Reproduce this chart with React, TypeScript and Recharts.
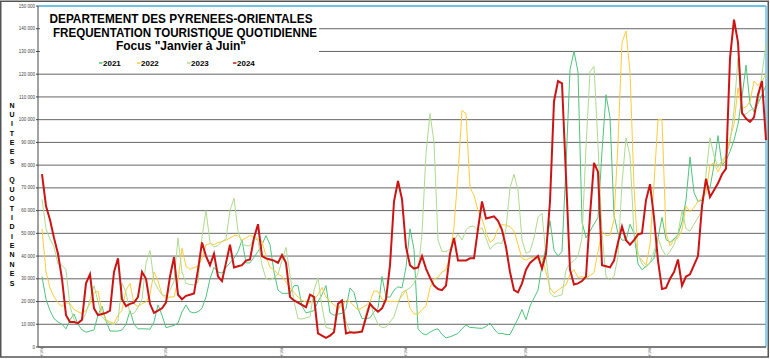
import React from 'react';
import { LineChart, Line, XAxis, YAxis, CartesianGrid, ReferenceLine } from 'recharts';

// Nuitées quotidiennes (en milliers), du 1er janvier au 30 juin
const nuitees2021 = [
  31, 21, 16, 12.5, 11, 10, 8, 12, 14.5, 10, 7.5, 6.5, 7, 7.5, 14, 18, 11.5, 7, 7, 7,
  7.5, 10, 16, 10, 8, 8, 8, 7.8, 11, 18.5, 14, 8.5, 9, 9.5, 10.5, 15.5, 18.5, 15.5, 15, 15.5,
  17, 22, 30, 35, 33, 32.5, 35, 37, 39, 42, 47, 37, 37, 39.5, 42, 45, 49, 45, 33, 25,
  23.6, 23.6, 23.6, 27, 27, 18, 15, 15.5, 16, 20, 23, 27, 15, 14, 14.5, 14.8, 17, 26, 24, 17,
  12.5, 12.5, 12.8, 15.5, 17, 31, 22, 22, 25, 26.5, 26, 35, 52, 43, 8, 6, 5.3, 6.5, 7.5, 8,
  5.5, 4, 4.5, 5.2, 6, 8, 9.7, 8.6, 8.5, 8.3, 8.2, 9, 10.5, 8, 6, 6, 5.5, 5.5, 8.9, 12.5,
  16.5, 12, 18, 21.5, 25, 36, 44, 55.5, 42.6, 40, 42, 80, 122, 130, 121, 55, 48, 51, 54, 57,
  86, 111, 101, 58, 50, 47, 47, 54, 50, 36.5, 34, 35.5, 37, 39, 48, 57, 47.3, 46, 47.5, 49.5,
  55, 64.6, 83.6, 68, 64, 64.5, 72, 70, 80, 93, 80, 82, 86, 91, 98, 110, 124, 107, 103.5, 107,
  111, 115,
];

const nuitees2022 = [
  52, 33, 26, 22, 19.5, 17.7, 19.5, 19, 16.5, 15.5, 14.8, 16, 19, 24, 24.5, 15.5, 12, 11, 10.4, 14,
  16.2, 25, 28, 19, 17.8, 19, 19.8, 23, 33, 29, 23, 21.4, 22, 22, 29, 43.4, 35.5, 34.2, 35, 35.5,
  39, 45, 45.5, 45, 46, 46.3, 47, 48, 49, 49, 47, 48, 49, 48.5, 47.5, 46.5, 40, 35, 34, 32,
  31, 28.5, 26, 24, 22, 20.5, 19.8, 19.2, 21, 23, 26.2, 22, 20, 18.5, 17, 18, 20.5, 20, 18, 16.3,
  17.2, 18.3, 20, 24.7, 24.4, 21, 20, 20, 20, 20, 22.5, 25, 17, 14.5, 14.5, 16.5, 18, 26, 30, 30.6,
  33, 34, 40, 53, 76, 104, 102.7, 70, 66.8, 60, 56.5, 50.5, 46, 47.5, 52, 54, 53.5, 53, 51, 45,
  39, 38.2, 39.2, 39.5, 38.5, 39.4, 33, 26, 23.6, 25, 26.3, 27.3, 32, 34, 30.6, 31, 30.2, 31.5, 32.7, 42,
  51, 49, 49.2, 56, 90, 134, 139, 121, 70.5, 40, 38.2, 36, 45, 72, 100, 100, 50, 44.5, 47, 48,
  51.5, 62, 59.5, 61.5, 64, 65.5, 67.6, 80, 81, 77, 80.5, 84, 92, 98, 114, 105, 105.6, 108, 117, 115,
  117, 120,
];

const nuitees2023 = [
  65, 52, 47.5, 44, 36.5, 36, 34, 18, 12, 10.5, 11.5, 15, 21, 27, 20, 13.3, 11.5, 10.4, 9.7, 11.5,
  28, 24, 14.5, 14.8, 17.5, 21, 37, 42.5, 29, 25.5, 23, 22.5, 25, 29, 48, 33, 28, 27.5, 27.3, 28.5,
  48.5, 60, 46, 44, 44.6, 46.5, 47.5, 60, 65.5, 51, 45.6, 44.5, 44.5, 47.8, 47, 36, 30, 29.5, 30.5, 32,
  38, 43.8, 31.6, 20, 12.5, 12.3, 12.8, 13.3, 25, 30.5, 17.7, 8.5, 8.2, 7.5, 16, 20.7, 11, 6.8, 6.5, 6.7,
  7, 15, 19.9, 14, 10, 8.6, 8.8, 11, 13.3, 19, 24, 25, 26, 28, 32.5, 50, 85, 102.7, 90, 47,
  42, 42, 43, 47, 49.7, 47, 51.4, 53, 53.2, 51, 52.5, 48, 43, 45, 45.8, 45.6, 52, 70, 76, 69,
  47, 41.2, 42, 48, 57, 58.8, 40, 24, 22, 22.5, 23, 33.8, 36.8, 38, 40, 48, 88, 121, 123.5, 89,
  50, 31, 29.5, 31, 40, 72, 92, 84, 50, 41, 36.5, 35, 37, 42, 48, 43, 40, 42, 45, 50,
  60, 52, 51, 54, 57, 60, 76, 92, 84, 79, 82, 84, 90, 104, 127, 102, 102.5, 104, 105, 107,
  120, 133.5,
];

const nuitees2024 = [
  76, 62, 56, 48, 41, 30, 14, 11, 11, 10.5, 12, 28, 32, 17, 14, 14.5, 15, 16, 33, 39,
  21, 18, 19, 19.5, 22, 33, 30, 19, 15, 16, 17, 19.5, 31, 39.5, 23, 21, 22.5, 23, 23.5, 34,
  46, 40, 36, 41, 31, 29, 37, 45, 35, 35.5, 36, 38, 38.5, 48, 54, 40, 39, 38.5, 38, 37,
  40.5, 37, 22, 20.5, 19.5, 18.5, 17.5, 23, 22, 6, 5, 4, 5, 6.5, 19, 20.5, 6, 6.5, 6.3, 6.5,
  6.8, 13, 19, 17, 15.5, 17, 21, 36, 64, 73, 65, 44, 36, 34.5, 35, 40, 34.5, 30.5, 27, 25.5,
  25, 27, 41, 48, 38, 38, 38, 39, 39, 52, 64, 56.5, 57, 57.5, 55.5, 51.5, 44, 33, 25, 24,
  28, 34, 37, 38.5, 40, 34.5, 41, 64, 108, 117, 116, 75, 34, 27.5, 28, 29, 31, 58, 81, 77,
  36, 35.5, 35, 38, 46, 53, 47, 45, 47, 49.5, 50, 64.6, 71.6, 57, 38, 25.5, 26, 30, 33, 38.5,
  27, 31, 32, 36, 40, 62, 74, 66, 69, 72, 76, 78.5, 127, 144, 134, 103, 100.5, 99, 101, 111,
  117, 91,
];

const monthStarts = [0, 31, 60, 91, 121, 152];
const monthLabels = ['01/01', '01/02', '01/03', '01/04', '01/05', '01/06'];
const yTicks = [0, 10, 20, 30, 40, 50, 60, 70, 80, 90, 100, 110, 120, 130, 140, 150];

const series = [
  { key: 'n2021', name: '2021', color: '#4fc47c', width: 1 },
  { key: 'n2022', name: '2022', color: '#ffcb3a', width: 1 },
  { key: 'n2023', name: '2023', color: '#aedb8e', width: 1 },
  { key: 'n2024', name: '2024', color: '#cc1414', width: 2 },
];

const data = nuitees2024.map((v, i) => ({
  day: i,
  n2021: nuitees2021[i],
  n2022: nuitees2022[i],
  n2023: nuitees2023[i],
  n2024: v,
}));

const sideLabel = 'NUITEES QUOTIDIENNES'.split('');

const MonthTick = (props: any) => {
  const { x, payload } = props;
  const idx = monthStarts.indexOf(payload.value);
  return (
    <text
      transform={`translate(${x + 1},355.5) rotate(-90)`}
      textAnchor="start"
      fontSize={3}
      fill="#555"
    >
      {monthLabels[idx]}
    </text>
  );
};

const ValueTick = (props: any) => {
  const { x, y, payload } = props;
  const v = payload.value;
  return (
    <text x={x} y={y} dy="0.35em" textAnchor="end" fontSize={4.5} fill="#444">
      {v === 0 ? '0' : `${v} 000`}
    </text>
  );
};

export default function App() {
  const legendX = [99, 137, 187, 233];
  return (
    <div
      style={{
        position: 'absolute',
        left: 0,
        top: 0,
        width: 770,
        height: 359,
        background: '#fff',
        fontFamily: 'Arial, "Liberation Sans", sans-serif',
      }}
    >
      <LineChart width={770} height={359} data={data} margin={{ top: 6, right: 4, bottom: 2, left: 8 }}>
        <CartesianGrid vertical={false} stroke="#666" />
        <XAxis
          type="number"
          dataKey="day"
          domain={[-1, 181]}
          ticks={monthStarts}
          height={10}
          tick={<MonthTick />}
          tickSize={2}
          axisLine={{ stroke: '#444' }}
          tickLine={{ stroke: '#777' }}
          interval={0}
        />
        <YAxis
          domain={[0, 150]}
          ticks={yTicks}
          width={30}
          tickSize={2}
          tickMargin={1}
          interval={0}
          tick={<ValueTick />}
          axisLine={{ stroke: '#444' }}
          tickLine={{ stroke: '#444' }}
        />
        <ReferenceLine y={150} stroke="#5bc6f2" strokeWidth={1.5} />
        <ReferenceLine x={181} stroke="#5bc6f2" strokeWidth={1.5} />
        {series.map((s) => (
          <Line
            key={s.key}
            type="linear"
            dataKey={s.key}
            name={s.name}
            stroke={s.color}
            strokeWidth={s.width}
            dot={false}
            isAnimationActive={false}
          />
        ))}
      </LineChart>

      <svg
        width={770}
        height={359}
        style={{ position: 'absolute', left: 0, top: 0, pointerEvents: 'none' }}
      >
        <rect x={40} y={7.5} width={279} height={63} fill="#fff" />
        <g fontWeight="bold" fontSize={12} textAnchor="middle" fill="#000">
          <text x={181} y={23} textLength={263} lengthAdjust="spacingAndGlyphs">
            DEPARTEMENT DES PYRENEES-ORIENTALES
          </text>
          <text x={185} y={36.5} textLength={264} lengthAdjust="spacingAndGlyphs">
            FREQUENTATION TOURISTIQUE QUOTIDIENNE
          </text>
          <text x={181} y={50}>Focus "Janvier à Juin"</text>
        </g>
        {series.map((s, i) => (
          <g key={s.key}>
            <line x1={legendX[i]} x2={legendX[i] + 3.5} y1={63} y2={63} stroke={s.color} strokeWidth={1.5} />
            <text x={legendX[i] + 4} y={66} fontSize={8} fontWeight="bold" fill="#000">
              {s.name}
            </text>
          </g>
        ))}
        <g fontWeight="bold" fontSize={7} textAnchor="middle" fill="#000">
          {sideLabel.map((c, i) => (
            <text key={i} x={12} y={107.5 + i * 9.37}>
              {c}
            </text>
          ))}
        </g>
        <rect x={0.75} y={1.25} width={767.5} height={355.75} fill="none" stroke="#555" strokeWidth={1.5} />
      </svg>
    </div>
  );
}
